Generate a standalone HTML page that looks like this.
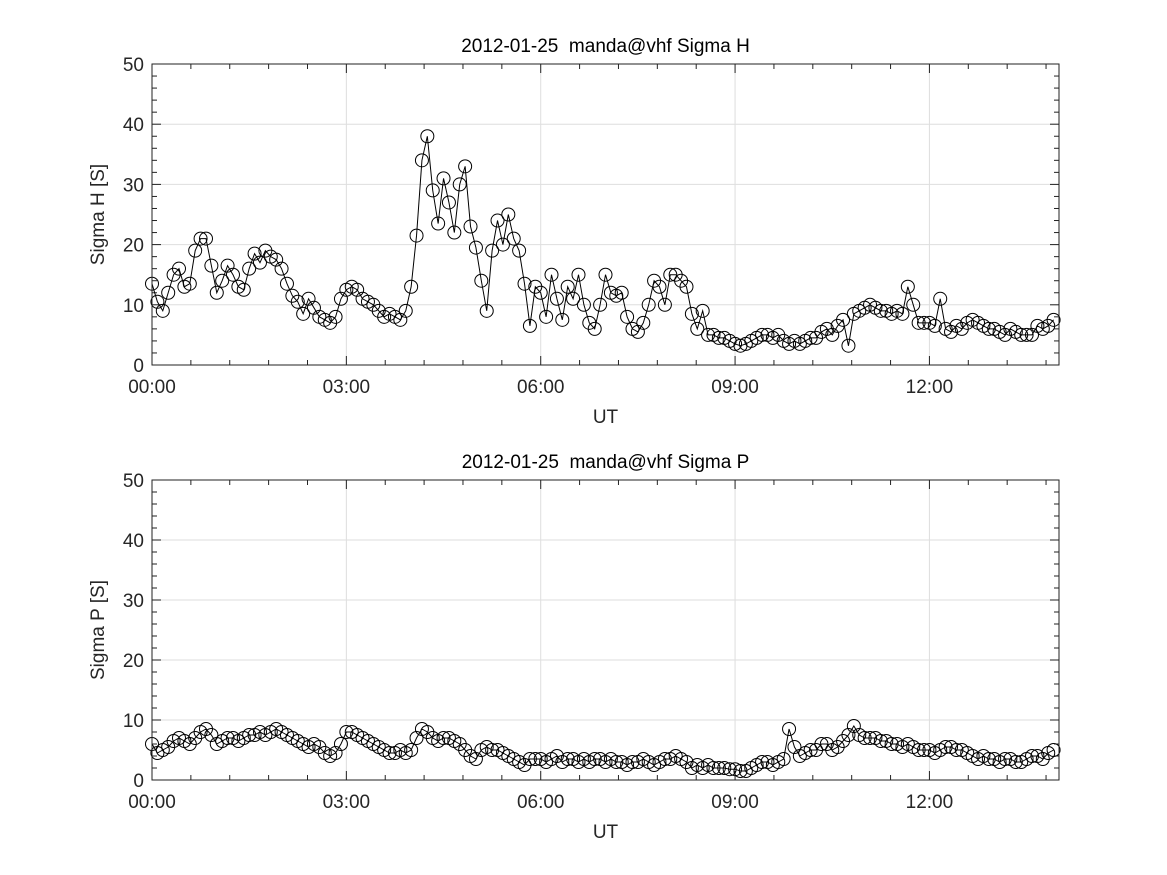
<!DOCTYPE html>
<html><head><meta charset="utf-8"><style>
body{margin:0;background:#fff}
svg{display:block;font-family:"Liberation Sans",sans-serif}
</style></head><body>
<svg id="c" width="1167" height="875"></svg>
<script>
const hours=["00:00","03:00","06:00","09:00","12:00"];
const yTicks=[0,10,20,30,40,50];
const sigmaH=[13.5,10.5,9,12,15,16,13,13.5,19,21,21,16.5,
12,14,16.5,15,13,12.5,16,18.5,17,19,18,17.5,
16,13.5,11.5,10.5,8.5,11,9.5,8,7.5,7,8,11,
12.5,13,12.5,11,10.5,10,9,8,8.5,8,7.5,9,
13,21.5,34,38,29,23.5,31,27,22,30,33,23,
19.5,14,9,19,24,20,25,21,19,13.5,6.5,13,
12,8,15,11,7.5,13,11,15,10,7,6,10,
15,12,11.5,12,8,6,5.5,7,10,14,13,10,
15,15,14,13,8.5,6,9,5,5,4.5,4.5,4,
3.5,3.2,3.5,4,4.5,5,5,4.5,5,4,3.5,4,
3.5,4,4.5,4.5,5.5,6,5,6.5,7.5,3.2,8.5,9,
9.5,10,9.5,9,9,8.5,9,8.5,13,10,7,7,
7,6.5,11,6,5.5,6.5,6,7,7.5,7,6.5,6,
6,5.5,5,6,5.5,5,5,5,6.5,6,6.5,7.5];
const sigmaP=[6,4.5,5,5.5,6.5,7,6.5,6,7,8,8.5,7.5,
6,6.5,7,7,6.5,7,7.5,7.5,8,7.5,8,8.5,
8,7.5,7,6.5,6,5.5,6,5.5,4.5,4,4.5,6,
8,8,7.5,7,6.5,6,5.5,5,4.5,4.5,5,4.5,
5,7,8.5,8,7,6.5,7,7,6.5,6,5,4,
3.5,5,5.5,5,5,4.5,4,3.5,3,2.5,3.5,3.5,
3.5,3,3.5,4,3,3.5,3.5,3,3.5,3,3.5,3.5,
3,3.5,3,3,2.5,3,3,3.5,3,2.5,3,3.5,
3.5,4,3.5,3,2,2.5,2,2.5,2,2,2,1.8,
1.8,1.5,1.5,2,2.5,3,3,2.5,3,3.5,8.5,5.5,
4,4.5,5,5,6,6,5,5.5,6.5,7.5,9,7.5,
7,7,7,6.5,6.5,6,6,5.5,6,5.5,5,5,
5,4.5,5,5.5,5.5,5,5,4.5,4,3.5,4,3.5,
3.5,3,3.5,3.5,3,3,3.5,4,4,3.5,4.5,5];
const stepMin=5;
const svg=document.getElementById('c');
const NS="http://www.w3.org/2000/svg";
function mk(t,a,p){const e=document.createElementNS(NS,t);for(const k in a)e.setAttribute(k,a[k]);(p||svg).appendChild(e);return e;}
function panel(top,bot,data,title,ylab,key){
  const L=152,R=1059,T=top,B=bot;
  const xs=h=>L+(R-L)*h/14, ys=v=>B-(B-T)*v/50;
  const g=mk('g',{});
  
  
  for(let i=0;i<hours.length;i++){const x=xs(i*3);
    const l=mk('line',{x1:x,x2:x,y1:T,y2:B,stroke:'#dedede','stroke-width':1},g);
    }
  for(const v of yTicks){const y=ys(v);
    const l=mk('line',{x1:L,x2:R,y1:y,y2:y,stroke:'#dedede','stroke-width':1},g);
    }
  // minor/major ticks
  for(let m=0;m<=14*60;m+=36){const x=xs(m/60);const len=(m%180===0)?9:5;
    mk('line',{x1:x,x2:x,y1:B,y2:B-len,stroke:'#222'},g);mk('line',{x1:x,x2:x,y1:T,y2:T+len,stroke:'#222'},g);}
  for(let v=0;v<=50;v+=2){const y=ys(v);const len=(v%10===0)?9:5;
    mk('line',{x1:L,x2:L+len,y1:y,y2:y,stroke:'#222'},g);mk('line',{x1:R,x2:R-len,y1:y,y2:y,stroke:'#222'},g);}
  const pts=data.map((v,i)=>[xs(i*stepMin/60),ys(v)]);
  const pl=mk('polyline',{points:pts.map(p=>p.join(',')).join(' '),fill:'none',stroke:'#000','stroke-width':1},g);
  
  pts.forEach(p=>{const c=mk('circle',{cx:p[0],cy:p[1],r:6.5,fill:'none',stroke:'#000','stroke-width':1},g);
    });
  const box=mk('rect',{x:L,y:T,width:R-L,height:B-T,fill:'none',stroke:'#222','stroke-width':1},g);
  
  hours.forEach((h,i)=>{const t=mk('text',{x:xs(i*3),y:B+28,'text-anchor':'middle','font-size':19,fill:'#262626'},g);t.textContent=h;
    });
  yTicks.forEach(v=>{const t=mk('text',{x:L-8,y:ys(v)+7,'text-anchor':'end','font-size':19,fill:'#262626'},g);t.textContent=v;
    });
  const tt=mk('text',{x:(L+R)/2,y:T-12,'text-anchor':'middle','font-size':19,fill:'#000'},g);tt.textContent=title;tt.setAttribute('xml:space','preserve');
  tt.style.whiteSpace='pre';
  
  const xl=mk('text',{x:(L+R)/2,y:B+58,'text-anchor':'middle','font-size':19,fill:'#262626'},g);xl.textContent='UT';
  
  const cy=(T+B)/2;
  const yl=mk('text',{x:104,y:cy,'text-anchor':'middle','font-size':19,fill:'#262626',transform:`rotate(-90 104 ${cy})`},g);yl.textContent=ylab;
  
}
panel(64,365,sigmaH,'2012-01-25  manda@vhf Sigma H','Sigma H [S]','sigma-h');
panel(480,780,sigmaP,'2012-01-25  manda@vhf Sigma P','Sigma P [S]','sigma-p');
</script>
</body></html>
